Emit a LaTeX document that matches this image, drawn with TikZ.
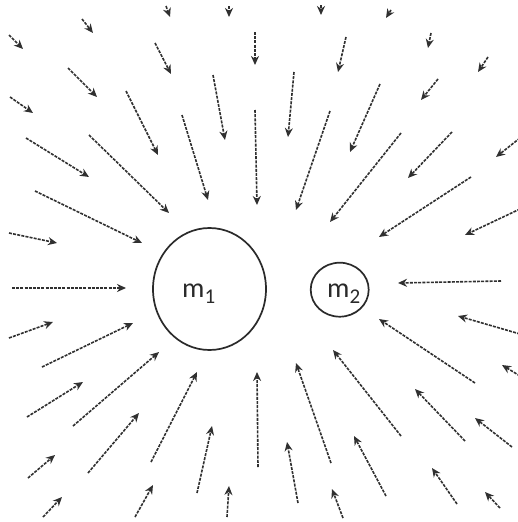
\documentclass[tikz,border=0pt]{standalone}
\usepackage{fontspec}
\newfontfamily\lblfont{Carlito}
\usetikzlibrary{arrows.meta}
\definecolor{fieldgray}{HTML}{303030}
\definecolor{ringgray}{HTML}{2A2A2A}
\tikzset{
  fieldarrow/.style={draw=fieldgray, line width=1.6pt, dash pattern=on 3pt off 1.2pt,
    -{Stealth[length=9pt,width=8pt,fill=fieldgray]}},
  massring/.style={draw=ringgray, line width=1.7pt},
  masslabel/.style={anchor=base west, inner sep=0pt, font=\lblfont\fontsize{28}{30}\selectfont, text=ringgray}
}
\newcommand{\subdig}[1]{\raisebox{-6pt}{\fontsize{21}{22}\selectfont #1}}
\begin{document}
\begin{tikzpicture}[x=1pt,y=-1pt]
\useasboundingbox[fill=white] (0,0) rectangle (518,522);
% masses
\draw[massring] (209.5,289) ellipse [x radius=56.5, y radius=61];
\draw[massring] (339.7,289.7) ellipse [x radius=29, y radius=27];
\node[masslabel] (m1) at (182,297) {m\subdig{1}};
\node[masslabel] (m2) at (327,297) {m\subdig{2}};
% field arrows: tail/head
\foreach \ax/\ay/\bx/\by in {
  9/35/23/49, 82/19/93/33, 166/6/170/17, 229/6/229/17, 255/32/255/65,
  155/43/171/74, 68/68/97/97, 10/97/33/113, 213/75/225/140, 126/91/158/155,
  182/115/208/200, 255/110/257/205, 26/138/89/177, 89/135/169/213,
  35/191/142/243, 9/233/57/243,
  321/5/321/15, 391/10/386/18, 346/37/338/72, 294/72/288/137, 431/33/428/48,
  488/57/478/72, 438/79/421/100, 380/84/350/152, 330/111/296/210,
  401/133/330/222, 452/132/408/178, 520/138/496/157, 471/177/379/237,
  520/209/465/235,
  12/288/126/288, 9/338/53/322, 42/367/133/323, 27/417/83/382,
  73/426/159/352, 28/478/55/455, 88/473/139/413, 151/462/197/372,
  43/517/62/497, 135/517/153/485, 197/493/212/426, 227/517/229/486,
  258/467/257/372,
  501/281/398/283, 520/334/458/316, 475/383/379/319, 520/376/502/365,
  401/436/333/350, 465/441/415/389, 331/463/296/363, 512/447/475/418,
  386/496/354/436, 298/503/287/442, 457/504/432/468, 343/518/332/489,
  500/508/485/492}
  {\draw[fieldarrow] (\ax,\ay) -- (\bx,\by);}
\end{tikzpicture}
\end{document}
